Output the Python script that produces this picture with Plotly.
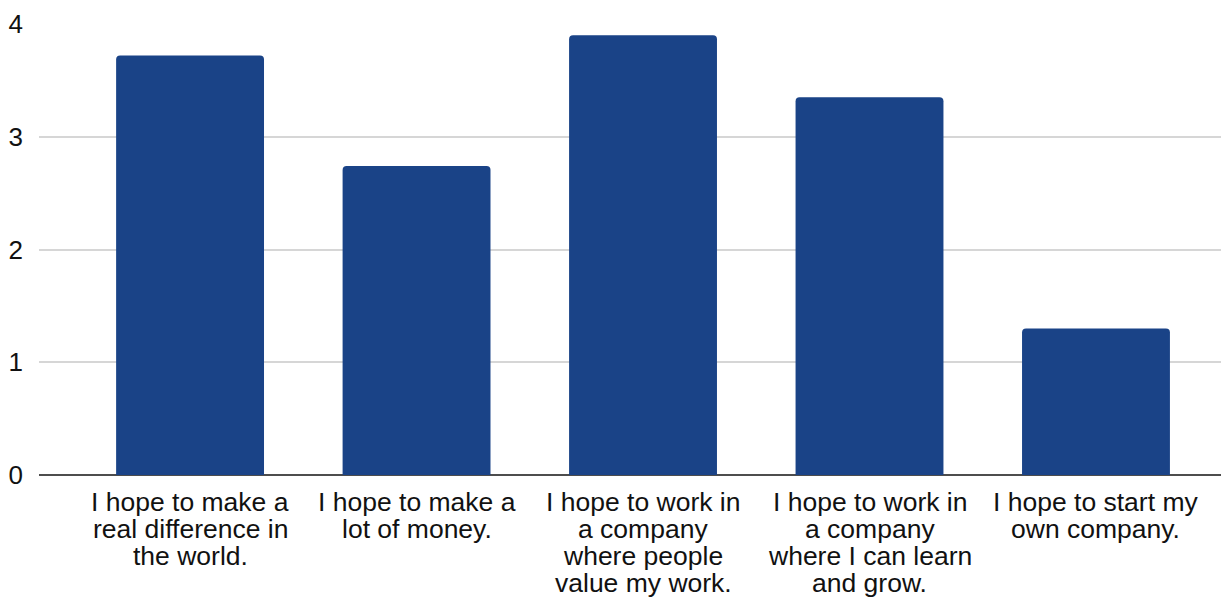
import plotly.graph_objects as go

# Survey statements and their mean agreement scores
categories = [
    "I hope to make a real difference in the world.",
    "I hope to make a lot of money.",
    "I hope to work in a company where people value my work.",
    "I hope to work in a company where I can learn and grow.",
    "I hope to start my own company.",
]
label_lines = [
    ["I hope to make a", "real difference in", "the world."],
    ["I hope to make a", "lot of money."],
    ["I hope to work in", "a company", "where people", "value my work."],
    ["I hope to work in", "a company", "where I can learn", "and grow."],
    ["I hope to start my", "own company."],
]
scores = [3.72, 2.74, 3.90, 3.35, 1.30]
y_ticks = [0, 1, 2, 3, 4]

BAR_COLOR = "#1a4387"
FONT = "Liberation Sans, Arial, sans-serif"
TEXT_COLOR = "#111111"

fig = go.Figure(
    go.Bar(
        x=categories,
        y=scores,
        marker=dict(color=BAR_COLOR, line=dict(width=0), cornerradius=4),
        width=0.653,
        hoverinfo="x+y",
    )
)

# Wrapped category labels, one annotation per line for tight line spacing
annotations = []
for cat, lines in zip(categories, label_lines):
    for i, line in enumerate(lines):
        annotations.append(
            dict(
                x=cat,
                xref="x",
                y=0,
                yref="y",
                text=line,
                showarrow=False,
                xanchor="center",
                yanchor="middle",
                borderpad=0,
                yshift=-(27 + 27 * i),
                font=dict(family=FONT, size=26.5, color=TEXT_COLOR),
            )
        )

fig.update_layout(
    width=1221,
    height=598,
    margin=dict(l=39, r=0, t=24, b=123),
    paper_bgcolor="white",
    plot_bgcolor="white",
    showlegend=False,
    annotations=annotations,
    xaxis=dict(
        type="category",
        range=[-0.667, 4.552],
        showticklabels=False,
        showgrid=False,
        zeroline=False,
        showline=False,
        ticks="",
    ),
    yaxis=dict(
        range=[0, 4],
        tickvals=y_ticks,
        ticktext=[str(v) for v in y_ticks],
        showgrid=True,
        gridcolor="#d6d6d6",
        gridwidth=1.5,
        zeroline=True,
        zerolinecolor="#4d4d4d",
        zerolinewidth=2,
        showline=False,
        ticks="",
        ticklabelstandoff=15,
        tickfont=dict(family=FONT, size=26, color=TEXT_COLOR),
    ),
)

fig.write_html("out.html")
